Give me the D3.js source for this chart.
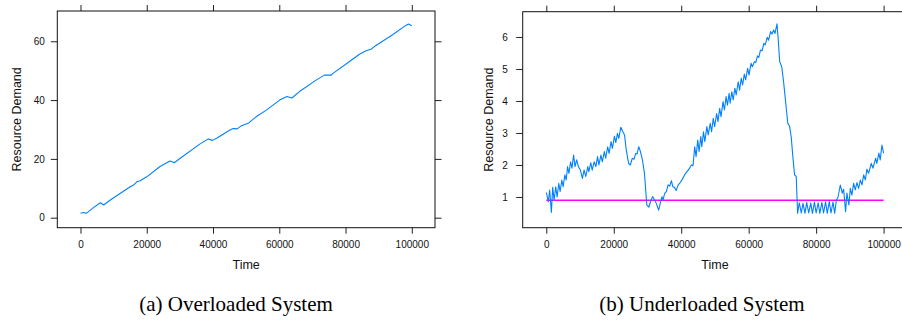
<!DOCTYPE html>
<html>
<head>
<meta charset="utf-8">
<script src="https://cdn.jsdelivr.net/npm/d3@7"></script>
<style>
  body { margin: 0; background: #fff; }
  svg text { font-family: "Liberation Sans", Helvetica, Arial, sans-serif; }
  .caption { font-family: "Liberation Serif", "Times New Roman", serif; }
</style>
</head>
<body>
<svg id="chart" width="902" height="322"></svg>
<script>
// x tick values shared by both panels
const timeTicks = [0, 20000, 40000, 60000, 80000, 100000];

// (a) overloaded system
const overTime = [0, 1000, 1700, 2200, 4000, 6000, 7000, 9000, 15000, 16000, 17000, 18000, 20000,
  24000, 27000, 27500, 28300, 30100, 36100, 38600, 39800, 41100, 45100, 46100, 47300, 48600,
  50600, 53100, 56100, 60100, 62300, 63800, 66100, 71100, 73600, 75700, 76200, 81200, 84200,
  86200, 87700, 88700, 94200, 98200, 99000, 100000];
const overDemand = [1.5, 1.8, 1.5, 1.9, 3.5, 5.1, 4.3, 6.0, 10.5, 11.1, 12.2, 12.6, 13.9,
  17.4, 19.3, 19.1, 18.7, 20.2, 25.1, 26.8, 26.3, 27.0, 29.8, 30.3, 30.2, 31.3,
  32.1, 34.4, 36.6, 40.0, 41.2, 40.7, 42.9, 46.8, 48.5, 48.5, 49.1, 53.1, 55.6,
  56.8, 57.3, 58.2, 62.2, 65.4, 65.9, 65.3];
const overYTicks = [0, 20, 40, 60];

// (b) underloaded system
const underTime = [0, 600, 1000, 1500, 1900, 2300, 2800, 3200, 3700, 4100, 4600, 5000, 5500, 5900,
  6300, 6700, 7200, 7600, 8100, 8500, 9000, 9500, 10100, 10700, 11200, 11700, 12300, 12600,
  13200, 13600, 14200, 14700, 15200, 15600, 16200, 16600, 17200, 17600, 18200, 18600, 19200,
  19600, 20200, 20600, 21100, 21500, 22100, 22700, 23200, 23700, 24400, 24900, 25500, 26000,
  26500, 26900, 27400, 27900, 28500, 29100, 29400, 29800, 30400, 30900, 31500, 32000, 32600,
  33300, 33900, 34300, 34600, 35100, 35600, 36100, 36600, 37100, 37500, 38000, 38500, 39100,
  39700, 40300, 41000, 41700, 42500, 43000, 43500, 44000, 44400, 44900, 45300, 45800, 46100,
  46600, 47000, 47600, 48000, 48600, 49000, 49500, 49900, 50500, 50900, 51400, 51800, 52400,
  52800, 53300, 53700, 54200, 54500, 55000, 55400, 55900, 56300, 56900, 57300, 57800, 58200,
  58700, 59100, 59700, 60100, 60700, 61100, 61700, 62100, 62600, 63000, 63500, 64000, 64500,
  64900, 65500, 65900, 66500, 66900, 67400, 67800, 68400, 68700, 69200, 69800, 70400, 71100,
  71600, 72100, 72600, 73100, 73600, 74100, 74500, 75000, 75600, 76100, 76700, 77200, 77800,
  78400, 78900, 79500, 80000, 80600, 81100, 81700, 82200, 82800, 83300, 83900, 84400, 85000,
  85500, 86000, 86500, 87160, 87750, 88150, 88730, 89130, 89720, 90130, 90600, 91100, 91600,
  92100, 92600, 93100, 93600, 94100, 94600, 95050, 95550, 96350, 96850, 97650, 98000, 98600,
  99000, 99500, 100000];
const underDemand = [1.14, 0.85, 1.22, 0.52, 1.3, 0.9, 1.32, 1.0, 1.43, 1.17, 1.53, 1.32, 1.69, 1.53,
  1.95, 1.74, 2.1, 1.9, 2.31, 1.95, 2.16, 1.95, 1.84, 1.58, 1.84, 1.64, 1.95, 1.79,
  2.07, 1.84, 2.1, 1.95, 2.26, 2.0, 2.31, 2.1, 2.42, 2.21, 2.57, 2.36, 2.73,
  2.52, 2.9, 2.7, 2.99, 2.83, 3.18, 3.04, 2.94, 2.47, 2.05, 2.0, 2.21, 2.18,
  2.36, 2.34, 2.57, 2.42, 2.16, 1.74, 1.32, 0.75, 0.68, 0.85, 1.01, 0.93, 0.8,
  0.59, 0.85, 1.01, 0.91, 1.11, 1.17, 1.38, 1.34, 1.51, 1.32, 1.3, 1.2, 1.38,
  1.45, 1.55, 1.69, 1.79, 1.9, 2.0, 1.98, 2.57, 2.26, 2.78, 2.42, 2.89, 2.57,
  3.04, 2.73, 3.2, 2.94, 3.3, 3.04, 3.46, 3.2, 3.61, 3.35, 3.77, 3.51, 3.98,
  3.72, 4.14, 3.87, 4.24, 3.93, 4.29, 4.03, 4.4, 4.19, 4.6, 4.34, 4.71, 4.5,
  4.84, 4.66, 5.02, 4.81, 5.18, 5.07, 5.23, 5.2, 5.41, 5.36, 5.59, 5.57, 5.8,
  5.75, 5.99, 5.9, 6.17, 6.09, 6.22, 6.11, 6.41, 6.01, 5.23, 5.07, 4.55, 3.82,
  3.3, 3.22, 2.89, 2.26, 1.69, 1.64, 0.49, 0.82, 0.5, 0.8, 0.49, 0.83, 0.5,
  0.81, 0.49, 0.84, 0.5, 0.82, 0.49, 0.83, 0.5, 0.85, 0.49, 0.86, 0.5, 0.84,
  0.49, 0.9, 1.0, 1.375, 1.12, 1.24, 0.54, 1.12, 0.75, 1.27, 1.06, 1.43, 1.22,
  1.45, 1.27, 1.53, 1.38, 1.69, 1.53, 1.87, 1.74, 2.05, 1.9, 2.21, 2.05, 2.37,
  2.16, 2.62, 2.37];
const underThreshold = [0.9, 0.9];
const thresholdTime = [0, 100000];
const underYTicks = [1, 2, 3, 4, 5, 6];

const svg = d3.select("#chart");

function drawPanel(p) {
  const g = svg.append("g");

  const x = d3.scaleLinear().domain([-7000, 107000]).range([p.left, p.right]);
  const y = d3.scaleLinear().domain(p.yDomain).range([p.bottom, p.top]);

  // axes on all four sides, lattice style (ticks outside the box)
  const bottom = g.append("g")
    .attr("transform", "translate(0," + p.bottom + ")")
    .call(d3.axisBottom(x).tickValues(timeTicks).tickFormat(d3.format("d"))
      .tickSize(6).tickSizeOuter(0).tickPadding(7));
  const top = g.append("g")
    .attr("transform", "translate(0," + p.top + ")")
    .call(d3.axisTop(x).tickValues(timeTicks).tickFormat("").tickSize(6).tickSizeOuter(0));
  const left = g.append("g")
    .attr("transform", "translate(" + p.left + ",0)")
    .call(d3.axisLeft(y).tickValues(p.yTicks).tickFormat(d3.format("d"))
      .tickSize(6.5).tickSizeOuter(0).tickPadding(p.yPad));
  const right = g.append("g")
    .attr("transform", "translate(" + p.right + ",0)")
    .call(d3.axisRight(y).tickValues(p.yTicks).tickFormat("").tickSize(6.5).tickSizeOuter(0));

  [bottom, top, left, right].forEach(a => {
    a.select(".domain").remove();
    a.selectAll(".tick line").attr("stroke", "#222");
    a.selectAll("text").attr("font-size", 10).attr("fill", "#111")
      .style("font-family", "'Liberation Sans', Helvetica, Arial, sans-serif");
  });

  g.append("rect")
    .attr("x", p.left).attr("y", p.top)
    .attr("width", p.right - p.left).attr("height", p.bottom - p.top)
    .attr("fill", "none").attr("stroke", "#111").attr("stroke-width", 1);

  // clip the series to the panel
  const clipId = "clip" + p.id;
  g.append("clipPath").attr("id", clipId).append("rect")
    .attr("x", p.left).attr("y", p.top)
    .attr("width", p.right - p.left).attr("height", p.bottom - p.top);

  const line = d3.line().x(d => x(d[0])).y(d => y(d[1]));

  if (p.refTime) {
    g.append("path")
      .datum(d3.zip(p.refTime, p.refValues))
      .attr("clip-path", "url(#" + clipId + ")")
      .attr("fill", "none").attr("stroke", "#ff00ff").attr("stroke-width", 1.5)
      .attr("d", line);
  }

  g.append("path")
    .datum(d3.zip(p.time, p.values))
    .attr("clip-path", "url(#" + clipId + ")")
    .attr("fill", "none").attr("stroke", "#0080ff").attr("stroke-width", 1.1)
    .attr("stroke-linejoin", "round")
    .attr("d", line);

  g.append("text")
    .attr("x", (p.left + p.right) / 2).attr("y", 269)
    .attr("text-anchor", "middle").attr("font-size", 12.5).attr("fill", "#111")
    .text("Time");

  g.append("text")
    .attr("transform", "translate(" + p.yLabelX + "," + (p.top + p.bottom) / 2 + ")rotate(-90)")
    .attr("text-anchor", "middle").attr("dy", "0.35em")
    .attr("font-size", 12.5).attr("fill", "#111")
    .text("Resource Demand");

  g.append("text")
    .attr("class", "caption")
    .attr("x", p.captionX).attr("y", 310.5)
    .attr("text-anchor", "middle").attr("font-size", 21).attr("fill", "#000")
    .text(p.caption);
}

drawPanel({
  id: "a", left: 57.3, right: 435, top: 11, bottom: 227.7,
  yDomain: [-3.4, 70.3], yTicks: overYTicks, yPad: 6,
  time: overTime, values: overDemand,
  yLabelX: 16.7, captionX: 236, caption: "(a) Overloaded System"
});

drawPanel({
  id: "b", left: 522.7, right: 907.2, top: 11.7, bottom: 227.7,
  yDomain: [0.04, 6.79], yTicks: underYTicks, yPad: 8.5,
  time: underTime, values: underDemand,
  refTime: thresholdTime, refValues: underThreshold,
  yLabelX: 488.3, captionX: 702, caption: "(b) Underloaded System"
});
</script>
</body>
</html>
